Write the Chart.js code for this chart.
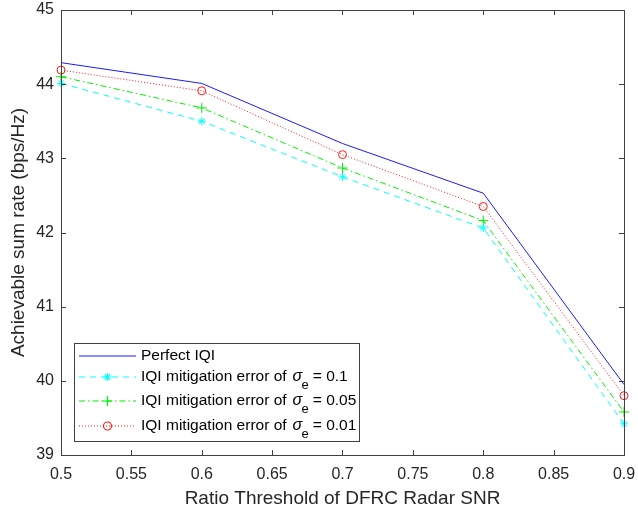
<!DOCTYPE html>
<html>
<head>
<meta charset="utf-8">
<script src="https://cdn.jsdelivr.net/npm/chart.js@4.4.1/dist/chart.umd.min.js"></script>
<style>
  html, body { margin: 0; padding: 0; background: #fff; }
  #wrap { width: 638px; height: 514px; }
</style>
</head>
<body>
<div id="wrap"><canvas id="rateChart" width="638" height="514"></canvas></div>
<script>
// data
const thresholds = [0.5, 0.6, 0.7, 0.8, 0.9];
const perfectIQI = [44.29, 44.01, 43.20, 42.53, 39.95];
const sigma01 = [44.01, 43.50, 42.75, 42.06, 39.42];
const sigma005 = [44.10, 43.68, 42.87, 42.16, 39.58];
const sigma001 = [44.19, 43.91, 43.05, 42.35, 39.80];

const xTicks = [0.5, 0.55, 0.6, 0.65, 0.7, 0.75, 0.8, 0.85, 0.9];
const xTickLabels = ['0.5', '0.55', '0.6', '0.65', '0.7', '0.75', '0.8', '0.85', '0.9'];
const yTicks = [39, 40, 41, 42, 43, 44, 45];

const legendNames = ['Perfect IQI', 'IQI mitigation error of', 'IQI mitigation error of', 'IQI mitigation error of'];
const sigmaLabels = [null, '0.1', '0.05', '0.01'];

const seriesColors = ['#1a1aff', '#00ffff', '#00f000', '#ff1a1a'];
const seriesDashes = [[], [6, 5], [6, 3, 1.5, 3], [1, 2]];
const seriesMarkers = [null, 'star', 'cross', 'circle'];

const AXIS_COLOR = '#404040';
const TEXT_COLOR = '#262626';
const FONT = '"Liberation Sans", Arial, Helvetica, sans-serif';

function toPoints(values) {
  return thresholds.map((x, i) => ({ x: x, y: values[i] }));
}

// draws a marker the way matlab does (outline only)
function drawMarker(ctx, style, cx, cy, r, color) {
  ctx.save();
  ctx.strokeStyle = color;
  ctx.lineWidth = 1.2;
  ctx.setLineDash([]);
  ctx.beginPath();
  if (style === 'circle') {
    ctx.arc(cx, cy, r, 0, Math.PI * 2);
  } else if (style === 'cross') {
    ctx.moveTo(cx - r, cy); ctx.lineTo(cx + r, cy);
    ctx.moveTo(cx, cy - r); ctx.lineTo(cx, cy + r);
  } else {
    for (let k = 0; k < 4; k++) {
      const ang = k * Math.PI / 4;
      ctx.moveTo(cx - r * Math.cos(ang), cy - r * Math.sin(ang));
      ctx.lineTo(cx + r * Math.cos(ang), cy + r * Math.sin(ang));
    }
  }
  ctx.stroke();
  ctx.restore();
}

// inward ticks on all four sides plus the box
const boxTicks = {
  id: 'boxTicks',
  afterDatasetsDraw(chart) {
    const { ctx, chartArea: a, scales } = chart;
    ctx.save();
    ctx.strokeStyle = AXIS_COLOR;
    ctx.lineWidth = 1;
    ctx.beginPath();
    xTicks.forEach(v => {
      const px = Math.round(scales.x.getPixelForValue(v)) + 0.5;
      ctx.moveTo(px, a.bottom); ctx.lineTo(px, a.bottom - 5);
      ctx.moveTo(px, a.top); ctx.lineTo(px, a.top + 5);
    });
    yTicks.forEach(v => {
      const py = Math.round(scales.y.getPixelForValue(v)) + 0.5;
      ctx.moveTo(a.left, py); ctx.lineTo(a.left + 5, py);
      ctx.moveTo(a.right, py); ctx.lineTo(a.right - 5, py);
    });
    ctx.stroke();
    ctx.strokeRect(Math.round(a.left) + 0.5, Math.round(a.top) + 0.5,
      Math.round(a.right - a.left), Math.round(a.bottom - a.top));
    ctx.restore();
  }
};

// MATLAB-style legend box with sigma_e subscript
const matlabLegend = {
  id: 'matlabLegend',
  afterDraw(chart) {
    const { ctx } = chart;
    const boxX = 74, boxY = 343, boxW = 285, boxH = 98;
    const rowY = [356, 377, 401, 426];
    ctx.save();
    ctx.fillStyle = '#fff';
    ctx.fillRect(boxX, boxY, boxW, boxH);
    ctx.strokeStyle = AXIS_COLOR;
    ctx.lineWidth = 1;
    ctx.strokeRect(boxX + 0.5, boxY + 0.5, boxW, boxH);

    legendNames.forEach((name, i) => {
      const y = rowY[i];
      const x0 = 79, x1 = 136;
      ctx.save();
      ctx.strokeStyle = seriesColors[i];
      ctx.lineWidth = 1.2;
      ctx.setLineDash(seriesDashes[i]);
      ctx.beginPath();
      ctx.moveTo(x0, y);
      ctx.lineTo(x1, y);
      ctx.stroke();
      ctx.restore();
      if (seriesMarkers[i]) {
        drawMarker(ctx, seriesMarkers[i], (x0 + x1) / 2, y, seriesMarkers[i] === 'cross' ? 5 : 4, seriesColors[i]);
      }

      ctx.fillStyle = '#000';
      ctx.textBaseline = 'middle';
      ctx.textAlign = 'left';
      ctx.font = '15.5px ' + FONT;
      let tx = 141;
      ctx.fillText(name, tx, y);
      if (sigmaLabels[i]) {
        tx += ctx.measureText(name).width + 6;
        ctx.font = 'italic 16px ' + FONT;
        ctx.fillText('\u03C3', tx, y);
        tx += 9;
        ctx.font = '13px ' + FONT;
        ctx.fillText('e', tx, y + 8);
        tx += ctx.measureText('e').width + 4;
        ctx.font = '15.5px ' + FONT;
        ctx.fillText('= ' + sigmaLabels[i], tx, y);
      }
    });
    ctx.restore();
  }
};

const ctx = document.getElementById('rateChart').getContext('2d');
const allSeries = [perfectIQI, sigma01, sigma005, sigma001];
const rateChart = new Chart(ctx, {
  type: 'line',
  data: {
    datasets: allSeries.map((values, i) => ({
      label: legendNames[i] + (sigmaLabels[i] ? ' sigma_e = ' + sigmaLabels[i] : ''),
      data: toPoints(values),
      borderColor: seriesColors[i],
      borderWidth: 1,
      borderDash: seriesDashes[i],
      pointStyle: seriesMarkers[i] || false,
      pointRadius: seriesMarkers[i] ? (seriesMarkers[i] === 'cross' ? 5 : 4) : 0,
      pointBorderWidth: 1,
      pointBorderColor: seriesColors[i],
      pointBackgroundColor: 'rgba(0,0,0,0)'
    }))
  },
  options: {
    responsive: false,
    animation: false,
    devicePixelRatio: 1,
    clip: false,
    layout: { autoPadding: false, padding: { top: 10, right: 14, left: 0, bottom: 0 } },
    plugins: {
      legend: { display: false },
      tooltip: { enabled: false }
    },
    elements: { line: { tension: 0 } },
    scales: {
      x: {
        type: 'linear',
        min: 0.5,
        max: 0.9,
        grid: { display: false, drawTicks: false },
        border: { display: false },
        afterBuildTicks: s => { s.ticks = xTicks.map(v => ({ value: v })); },
        afterFit: s => {
          s.height = 59;
          s.paddingLeft = 0; s.paddingRight = 0;
          s.paddingTop = 0; s.paddingBottom = 0;
        },
        ticks: {
          color: TEXT_COLOR,
          font: { family: FONT, size: 16 },
          padding: 10,
          maxRotation: 0,
          autoSkip: false,
          callback: (v, i) => xTickLabels[i]
        },
        title: {
          display: true,
          text: 'Ratio Threshold of DFRC Radar SNR',
          color: TEXT_COLOR,
          font: { family: FONT, size: 19 },
          padding: { top: 0, bottom: 4 }
        }
      },
      y: {
        type: 'linear',
        min: 39,
        max: 45,
        grid: { display: false, drawTicks: false },
        border: { display: false },
        afterBuildTicks: s => { s.ticks = yTicks.map(v => ({ value: v })); },
        afterFit: s => {
          s.width = 61;
          s.paddingLeft = 0; s.paddingRight = 0;
          s.paddingTop = 0; s.paddingBottom = 0;
        },
        ticks: {
          color: TEXT_COLOR,
          font: { family: FONT, size: 16 },
          padding: 7
        },
        title: {
          display: true,
          text: 'Achievable sum rate (bps/Hz)',
          color: TEXT_COLOR,
          font: { family: FONT, size: 19 },
          padding: { top: 7, bottom: 0 }
        }
      }
    }
  },
  plugins: [boxTicks, matlabLegend]
});
</script>
</body>
</html>
